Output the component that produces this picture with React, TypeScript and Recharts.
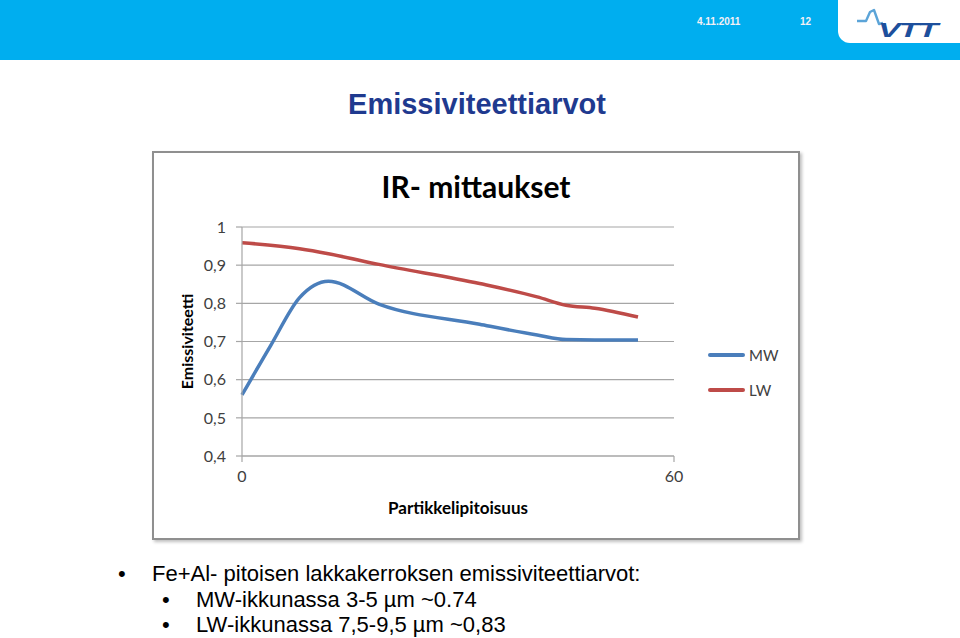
import React from 'react';
import { LineChart, Line, XAxis, YAxis, CartesianGrid, Legend } from 'recharts';

const mwX = [0, 4, 8, 12, 19, 33, 41, 45, 49, 55];
const mwValues = [0.56, 0.69, 0.815, 0.858, 0.798, 0.745, 0.717, 0.705, 0.704, 0.704];
const lwX = [0, 8, 12, 19, 33, 41, 45, 49, 55];
const lwValues = [0.959, 0.943, 0.93, 0.902, 0.852, 0.817, 0.795, 0.787, 0.764];

const yTicks = [0.4, 0.5, 0.6, 0.7, 0.8, 0.9, 1];
const xTicks = [0, 60];

const mwData = mwX.map((x, i) => ({ x, y: mwValues[i] }));
const lwData = lwX.map((x, i) => ({ x, y: lwValues[i] }));

const MW_COLOR = '#4A7EBB';
const LW_COLOR = '#BE4B48';
const GRID = '#A6A6A6';
const CHART_FONT = 'Lato, "Open Sans", sans-serif';

function formatY(v: number) {
  return v === 1 ? '1' : v.toFixed(1).replace('.', ',');
}

function LegendBox() {
  const items = [
    { name: 'MW', color: MW_COLOR },
    { name: 'LW', color: LW_COLOR },
  ];
  return (
    <div style={{ fontFamily: CHART_FONT, fontSize: 15, color: '#404040' }}>
      {items.map((it) => (
        <div key={it.name} style={{ display: 'flex', alignItems: 'center', height: 35 }}>
          <span style={{ display: 'inline-block', width: 37, height: 4, background: it.color, borderRadius: 2, marginRight: 4 }} />
          <span>{it.name}</span>
        </div>
      ))}
    </div>
  );
}

function Header() {
  return (
    <div style={{ position: 'absolute', left: 0, top: 0, width: 960, height: 60, background: '#00AEEF' }}>
      <div style={{ position: 'absolute', left: 697, top: 16, fontFamily: 'Liberation Sans, Arial, sans-serif', fontSize: 10, fontWeight: 'bold', color: '#F3F0F5' }}>
        4.11.2011
      </div>
      <div style={{ position: 'absolute', left: 800, top: 16, fontFamily: 'Liberation Sans, Arial, sans-serif', fontSize: 10, fontWeight: 'bold', color: '#F3F0F5' }}>
        12
      </div>
      <div style={{ position: 'absolute', left: 838, top: 0, width: 122, height: 43, background: '#fff', borderBottomLeftRadius: 12 }}>
        <svg width={122} height={43}>
          <polyline points="19,21 28,21 32,12 36,10 41,24 45,23" fill="none" stroke="#5BA4D8" strokeWidth={2.4} strokeLinejoin="round" />
          <text x={0} y={0} transform="translate(40 37) scale(1.6 1)" fontFamily="Liberation Sans, Arial, sans-serif" fontWeight="bold" fontStyle="italic" fontSize={21} fill="#1D4F9C" letterSpacing={-1}>
            VTT
          </text>
        </svg>
      </div>
    </div>
  );
}

export default function App() {
  return (
    <div style={{ position: 'absolute', left: 0, top: 0, width: 960, height: 638, background: '#fff', overflow: 'hidden' }}>
      <Header />
      <div style={{ position: 'absolute', left: 0, top: 88, width: 954, textAlign: 'center', fontFamily: 'Liberation Sans, Arial, sans-serif', fontWeight: 'bold', fontSize: 29, color: '#1F3A8F' }}>
        Emissiviteettiarvot
      </div>

      <div style={{ position: 'absolute', left: 152, top: 151, width: 648, height: 389, boxSizing: 'border-box', border: '2px solid #8F8F8F', background: '#fff', boxShadow: '2px 2px 3px rgba(0,0,0,0.25)' }}>
        <div style={{ position: 'absolute', left: 0, top: 15, width: 644, textAlign: 'center', fontFamily: CHART_FONT, fontWeight: 'bold', fontSize: 30, color: '#000' }}>
          IR- mittaukset
        </div>
        <LineChart width={644} height={385} margin={{ top: 74, right: 34, left: 0, bottom: 0 }} style={{ fontFamily: CHART_FONT }}>
          <CartesianGrid horizontal vertical={false} stroke={GRID} strokeWidth={1.2} />
          <XAxis
            type="number"
            dataKey="x"
            domain={[0, 60]}
            ticks={xTicks}
            height={82}
            axisLine={{ stroke: GRID, strokeWidth: 1.2 }}
            tickLine={{ stroke: GRID, strokeWidth: 1.2 }}
            tickSize={6}
            tickMargin={9}
            tick={{ fill: '#404040', fontSize: 16 }}
            label={({ viewBox }: any) => (
              <text x={viewBox.x + viewBox.width / 2} y={viewBox.y + 58} textAnchor="middle" fontFamily={CHART_FONT} fontWeight="bold" fontSize={17} fill="#000">
                Partikkelipitoisuus
              </text>
            )}
          />
          <YAxis
            type="number"
            dataKey="y"
            domain={[0.4, 1]}
            ticks={yTicks}
            width={88}
            tickFormatter={formatY}
            axisLine={{ stroke: GRID, strokeWidth: 1.2 }}
            tickLine={{ stroke: GRID, strokeWidth: 1.2 }}
            tickSize={6}
            tickMargin={10}
            tick={{ fill: '#404040', fontSize: 16 }}
            label={({ viewBox }: any) => {
              const cx = viewBox.x + 39;
              const cy = viewBox.y + viewBox.height / 2;
              return (
                <text x={cx} y={cy} transform={`rotate(-90 ${cx} ${cy})`} textAnchor="middle" fontFamily={CHART_FONT} fontWeight="bold" fontSize={16} fill="#000">
                  Emissiviteetti
                </text>
              );
            }}
          />
          <Legend
            layout="vertical"
            verticalAlign="top"
            align="right"
            content={() => <LegendBox />}
            wrapperStyle={{ left: 554, top: 184, width: 90 }}
          />
          <Line data={mwData} dataKey="y" name="MW" type="monotone" stroke={MW_COLOR} strokeWidth={3.5} dot={false} isAnimationActive={false} />
          <Line data={lwData} dataKey="y" name="LW" type="monotone" stroke={LW_COLOR} strokeWidth={3.5} dot={false} isAnimationActive={false} />
        </LineChart>
      </div>

      <div style={{ position: 'absolute', left: 0, top: 561, width: 960, fontFamily: 'Liberation Sans, Arial, sans-serif', fontSize: 22, color: '#000', lineHeight: '25.5px' }}>
        <div style={{ position: 'relative', paddingLeft: 152 }}>
          <span style={{ position: 'absolute', left: 118 }}>•</span>
          Fe+Al- pitoisen lakkakerroksen emissiviteettiarvot:
        </div>
        <div style={{ position: 'relative', paddingLeft: 196 }}>
          <span style={{ position: 'absolute', left: 162 }}>•</span>
          MW-ikkunassa 3-5 µm ~0.74
        </div>
        <div style={{ position: 'relative', paddingLeft: 196 }}>
          <span style={{ position: 'absolute', left: 162 }}>•</span>
          LW-ikkunassa 7,5-9,5 µm ~0,83
        </div>
      </div>
    </div>
  );
}
